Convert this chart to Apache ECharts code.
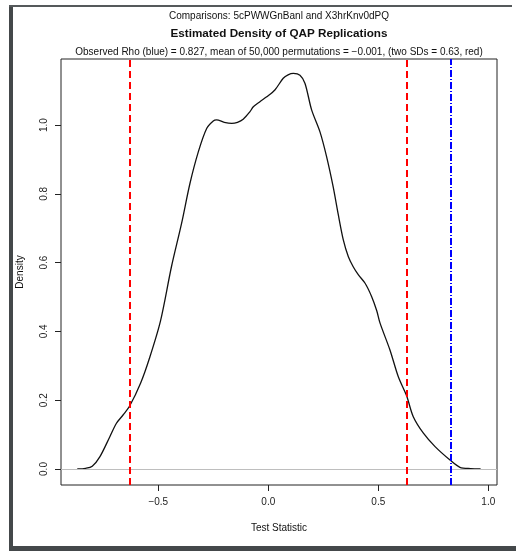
<!DOCTYPE html>
<html>
<head>
<meta charset="utf-8">
<script src="https://cdn.jsdelivr.net/npm/echarts@6/dist/echarts.min.js"></script>
<style>
html, body { margin: 0; padding: 0; background: #fff; }
#main { width: 516px; height: 551px; }
</style>
</head>
<body>
<div id="main"></div>
<script>
// density estimate
var densX = [-0.868, -0.83, -0.80, -0.765, -0.72, -0.69, -0.66, -0.63, -0.58, -0.54,
    -0.49, -0.44, -0.394, -0.356, -0.318, -0.28, -0.25, -0.235, -0.2, -0.166,
    -0.14, -0.114, -0.083, -0.068, -0.038, -0.007, 0.03, 0.068, 0.09, 0.114,
    0.144, 0.167, 0.197, 0.235, 0.265, 0.295, 0.318, 0.341, 0.364, 0.386,
    0.409, 0.44, 0.47, 0.493, 0.508, 0.553, 0.591, 0.629, 0.659, 0.705,
    0.758, 0.826, 0.871, 0.92, 0.965];
var densY = [0, 0.002, 0.008, 0.036, 0.094, 0.133, 0.157, 0.183, 0.25, 0.322,
    0.43, 0.588, 0.714, 0.83, 0.922, 0.99, 1.012, 1.015, 1.008, 1.005,
    1.008, 1.017, 1.039, 1.053, 1.068, 1.082, 1.102, 1.136, 1.146, 1.15,
    1.145, 1.121, 1.044, 0.98, 0.908, 0.82, 0.74, 0.666, 0.617, 0.588,
    0.565, 0.54, 0.501, 0.46, 0.424, 0.346, 0.268, 0.212, 0.152, 0.104,
    0.065, 0.026, 0.005, 0.001, 0];
var observedRho = 0.827;
var twoSD = [-0.63, 0.63];
var xTicks = [-0.5, 0.0, 0.5, 1.0];
var yTicks = [0.0, 0.2, 0.4, 0.6, 0.8, 1.0];

var chart = echarts.init(document.getElementById('main'), null, { renderer: 'canvas' });

var pts = densX.map(function (x, i) { return [x, densY[i]]; });
var fnt = 'Liberation Sans, Arial, sans-serif';

function titleText(txt, y, size, weight) {
    return {
        type: 'text', x: 279, y: y,
        style: {
            text: txt, fontSize: size, fontWeight: weight, fill: '#111', fontFamily: fnt,
            textAlign: 'center', textVerticalAlign: 'middle'
        }
    };
}

var option = {
    animation: false,
    backgroundColor: '#fff',
    grid: {
        left: 61, right: 19, top: 59, bottom: 66,
        show: true, borderColor: '#222', borderWidth: 1, backgroundColor: 'transparent'
    },
    xAxis: {
        type: 'value', min: -0.942, max: 1.0395,
        name: 'Test Statistic', nameLocation: 'middle', nameGap: 38,
        nameTextStyle: { fontSize: 10, color: '#111', fontFamily: fnt },
        axisLine: { show: false, onZero: false },
        splitLine: { show: false },
        axisTick: { show: true, length: 6, customValues: xTicks, lineStyle: { color: '#222' } },
        axisLabel: {
            customValues: xTicks, margin: 12, fontSize: 10, color: '#222', fontFamily: fnt,
            formatter: function (v) { return (v < 0 ? '\u2212' : '') + Math.abs(v).toFixed(1); }
        }
    },
    yAxis: {
        type: 'value', min: -0.0465, max: 1.192,
        name: 'Density', nameLocation: 'middle', nameGap: 36,
        nameTextStyle: { fontSize: 10, color: '#111', fontFamily: fnt },
        axisLine: { show: false, onZero: false },
        splitLine: { show: false },
        axisTick: { show: true, length: 6, customValues: yTicks, lineStyle: { color: '#222' } },
        axisLabel: {
            customValues: yTicks, rotate: 90, margin: 12, fontSize: 10, color: '#222', fontFamily: fnt,
            formatter: function (v) { return v.toFixed(1); }
        }
    },
    series: [{
        type: 'line',
        data: pts,
        smooth: 0.3,
        showSymbol: false,
        lineStyle: { color: '#111', width: 1.3 },
        z: 3,
        markLine: {
            silent: true,
            symbol: ['none', 'none'],
            label: { show: false },
            data: [
                { yAxis: 0, lineStyle: { color: '#bebebe', width: 1, type: 'solid' } },
                { xAxis: twoSD[0], lineStyle: { color: '#ff0000', width: 2, type: [7, 4] } },
                { xAxis: twoSD[1], lineStyle: { color: '#ff0000', width: 2, type: [7, 4] } },
                { xAxis: observedRho, lineStyle: { color: '#0000ff', width: 2, type: [7, 2, 1, 2] } }
            ]
        }
    }],
    graphic: [
        { type: 'rect', shape: { x: 9, y: 5, width: 4, height: 546 }, style: { fill: '#44484a' } },
        { type: 'rect', shape: { x: 9, y: 5, width: 503, height: 2 }, style: { fill: '#55595b' } },
        { type: 'rect', shape: { x: 9, y: 546, width: 507, height: 5 }, style: { fill: '#44484a' } },
        titleText('Comparisons: 5cPWWGnBanl and X3hrKnv0dPQ', 16, 10, 'normal'),
        titleText('Estimated Density of QAP Replications', 34, 11.7, 'bold'),
        titleText('Observed Rho (blue) = 0.827, mean of 50,000 permutations = \u22120.001, (two SDs = 0.63, red)', 52, 10, 'normal')
    ]
};
chart.setOption(option);
</script>
</body>
</html>
